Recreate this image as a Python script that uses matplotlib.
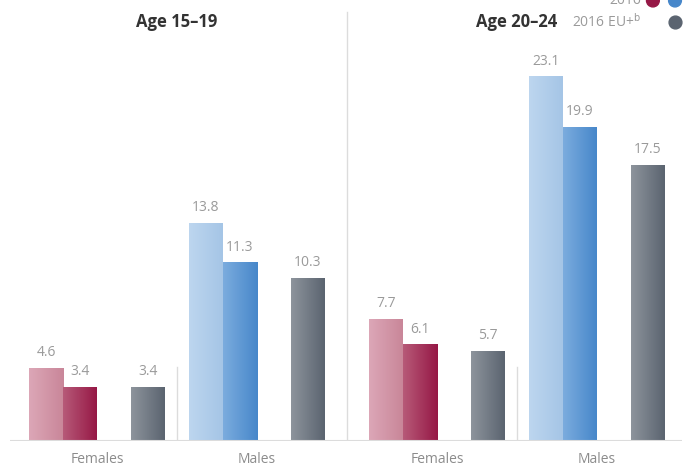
import matplotlib
matplotlib.use("Agg")
import matplotlib.pyplot as plt
import numpy as np
from matplotlib.colors import LinearSegmentedColormap

# data
panels = ["Age 15\u201319", "Age 20\u201324"]
groups = ["Females", "Males"]
val_2015 = [[4.6, 13.8], [7.7, 23.1]]
val_2016 = [[3.4, 11.3], [6.1, 19.9]]
val_eu = [[3.4, 10.3], [5.7, 17.5]]
legend_labels = ["2016", "2016 EU+$^{\\mathrm{b}}$"]

# gradient colours (left -> right)
PINK = ("#dca7b7", "#c98699")
RED = ("#b75a78", "#961846")
LBLUE = ("#bdd6ef", "#a5c5e6")
BLUE = ("#7bacde", "#4787ca")
GREY = ("#8d949c", "#5b6470")
LABEL_C = "#9a9a9a"
LINE_C = "#dcdcdc"

plt.rcParams["font.family"] = ["Open Sans", "DejaVu Sans"]

fig = plt.figure(figsize=(6.89, 4.69), dpi=100)
ax = fig.add_axes([0, 28 / 469, 1, 441 / 469])

W = 1.0
PANEL_OFF = 10.0
GROUP_OFF = 4.7


def gradient_bar(x, h, cols):
    cmap = LinearSegmentedColormap.from_list("g", cols)
    grad = np.linspace(0, 1, 64).reshape(1, -1)
    ax.imshow(grad, cmap=cmap, extent=[x, x + W, 0, h], aspect="auto",
              interpolation="bilinear", zorder=2)
    ax.annotate(f"{h:.1f}", (x + W / 2, h), xytext=(0, 6), textcoords="offset points",
                ha="center", va="bottom", color=LABEL_C, fontsize=10)


for p in range(len(panels)):
    base = p * PANEL_OFF
    for g in range(len(groups)):
        x0 = base + g * GROUP_OFF
        c1, c2 = (PINK, RED) if g == 0 else (LBLUE, BLUE)
        gradient_bar(x0, val_2015[p][g], c1)
        gradient_bar(x0 + W, val_2016[p][g], c2)
        gradient_bar(x0 + 3 * W, val_eu[p][g], GREY)
        ax.text(x0 + 2 * W, -1.2, groups[g], ha="center", va="center",
                color="#8c8c8c", fontsize=10)
    sep = base + 4.35
    ax.plot([sep, sep], [0, 4.7], color=LINE_C, lw=1, zorder=1)
    ax.text(sep, 26.6, panels[p], ha="center", va="center", fontsize=12,
            fontweight="bold", color="#333333")

# panel divider
ax.plot([9.35, 9.35], [0, 27.2], color=LINE_C, lw=1, zorder=1)
# baseline
ax.plot([-0.56, 19.2], [0, 0], color=LINE_C, lw=1.5, zorder=3, solid_capstyle="butt")

# legend (top right, partly cut off as in the source)
ax.text(18.0, 27.95, legend_labels[0], ha="right", va="center", color=LABEL_C, fontsize=10)
ax.scatter([18.35, 19.0], [27.95, 27.95], s=85, color=[RED[1], BLUE[1]], zorder=4, clip_on=False)
ax.text(18.0, 26.6, legend_labels[1], ha="right", va="center", color=LABEL_C, fontsize=10)
ax.scatter([19.0], [26.6], s=85, color=GREY[1], zorder=4, clip_on=False)

ax.set_xlim(-29 / 34, 660 / 34)
ax.set_ylim(0, 441 / 15.76)
ax.axis("off")

fig.savefig("out.png", dpi=100)
plt.close()
